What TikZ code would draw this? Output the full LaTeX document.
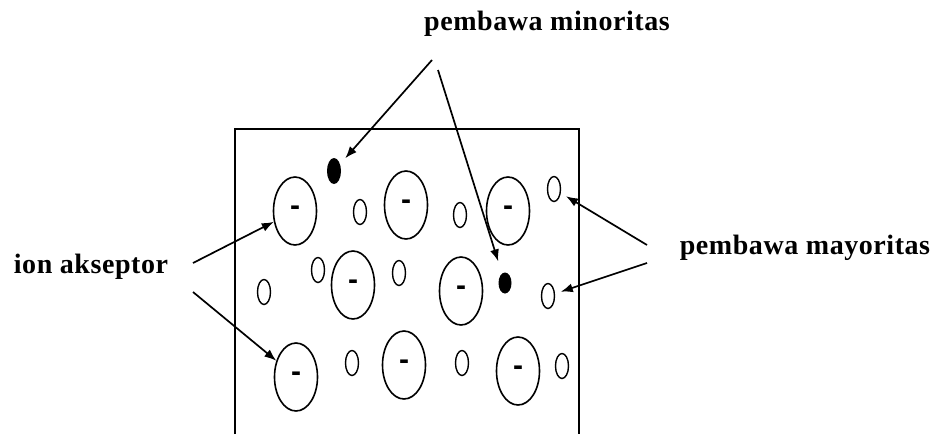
\documentclass[tikz,border=0pt]{standalone}
\usepackage{fontspec}
\setmainfont{Liberation Serif}
\setsansfont{Liberation Sans}
\newfontfamily\lblfont[LetterSpace=2]{Liberation Serif}
\usetikzlibrary{shapes.geometric, arrows.meta}

\tikzset{
	ion/.style={ellipse, draw, line width=1.6pt, inner sep=0pt,
		minimum width=43pt, minimum height=68pt, font=\sffamily\bfseries\fontsize{30}{30}\selectfont},
	hole/.style={ellipse, draw, line width=1.4pt, inner sep=0pt,
		minimum width=13pt, minimum height=25pt},
	elec/.style={ellipse, fill, inner sep=0pt, minimum width=14pt},
	lbl/.style={font=\lblfont\bfseries\fontsize{28}{30}\selectfont, inner sep=0pt},
}

\begin{document}
\begin{tikzpicture}[x=1pt, y=-1pt, >={Latex[length=12pt,width=9pt]}, line width=1.7pt]
	\useasboundingbox (0,0) rectangle (943,434);
	% kristal
	\draw (235,434) -- (235,129) -- (579,129) -- (579,434);
	% ion akseptor
	\foreach \n/\x/\y in {a1/295/211, a2/406/205, a3/508/211,
		b1/353/285, b2/461/291,
		c1/296/377, c2/404/365, c3/518/371}{
		\node[ion] (\n) at (\x,\y) {-};
	}
	% hole
	\foreach \n/\x/\y in {h1/360/212, h2/460/215, h3/554/189,
		h4/318/270, h5/399/273, h6/264/292, h7/548/296,
		h8/352/363, h9/462/363, h10/562/366}{
		\node[hole] (\n) at (\x,\y) {};
	}
	% elektron
	\node[elec, minimum height=26pt] (e1) at (334,171) {};
	\node[elec, minimum height=21pt, minimum width=13pt] (e2) at (505,283) {};
	% label
	\node[lbl] (minor) at (547,24) {pembawa minoritas};
	\node[lbl] (akse) at (91,267) {ion akseptor};
	\node[lbl] (mayor) at (805,248) {pembawa mayoritas};
	\coordinate (m1) at (432,60);
	\coordinate (m2) at (438,70);
	\coordinate (i1) at (193,263);
	\coordinate (i2) at (193,292);
	\coordinate (p1) at (647,245);
	\coordinate (p2) at (647,263);
	\draw[->, shorten >=7pt] (m1) -- (e1);
	\draw[->, shorten >=12pt] (m2) -- (e2);
	\draw[->] (i1) -- (a1);
	\draw[->] (i2) -- (c1);
	\draw[->, shorten >=6pt] (p1) -- (h3);
	\draw[->, shorten >=6pt] (p2) -- (h7);
\end{tikzpicture}
\end{document}
